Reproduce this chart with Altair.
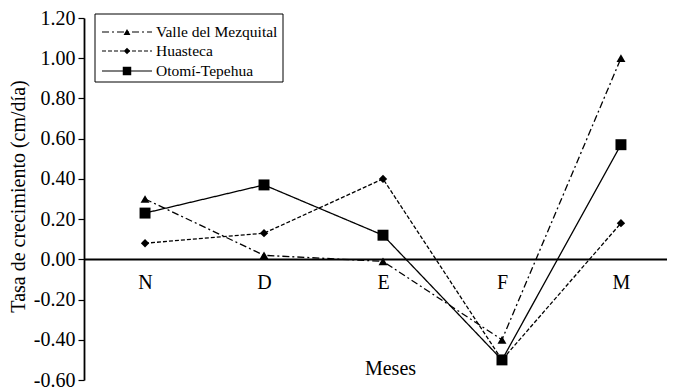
import altair as alt
import pandas as pd

months = ["N", "D", "E", "F", "M"]
series = ["Valle del Mezquital", "Huasteca", "Otomí-Tepehua"]
valle = [0.30, 0.02, -0.01, -0.40, 1.00]
huasteca = [0.08, 0.13, 0.40, -0.50, 0.18]
otomi = [0.23, 0.37, 0.12, -0.50, 0.57]
y_ticks = [-0.6, -0.4, -0.2, 0.0, 0.2, 0.4, 0.6, 0.8, 1.0, 1.2]

values = {"Valle del Mezquital": valle, "Huasteca": huasteca, "Otomí-Tepehua": otomi}
style = {
    "Valle del Mezquital": dict(dash=[7, 3, 2, 3], shape="triangle-up", size=80),
    "Huasteca": dict(dash=[4, 2], shape="diamond", size=70),
    "Otomí-Tepehua": dict(dash=[1, 0], shape="square", size=120),
}

rows = []
for s in series:
    for i, (m, v) in enumerate(zip(months, values[s])):
        rows.append({"serie": s, "mes": m, "idx": i, "valor": v})
df = pd.DataFrame(rows)

FONT = "Liberation Serif, Times New Roman, Times, serif"
label_expr = "[" + ",".join("'%s'" % m for m in months) + "][datum.value]"

H = 362
x_enc = alt.X(
    "idx:Q",
    scale=alt.Scale(domain=[-0.513, 4.387], nice=False, zero=False),
    axis=alt.Axis(
        values=list(range(len(months))),
        labelExpr=label_expr,
        ticks=False,
        grid=False,
        offset=-121,
        labelPadding=13,
        labelFontSize=20,
        title="Meses",
        titleFontSize=20,
        titleFontWeight="normal",
        titleX=306,
        titleY=109,
        titleBaseline="middle",
        titleAlign="center",
        domainWidth=1.8,
    ),
)
y_enc = alt.Y(
    "valor:Q",
    scale=alt.Scale(domain=[-0.6, 1.2], nice=False, zero=False),
    axis=alt.Axis(
        values=y_ticks,
        labelExpr="replace(format(datum.value, '.2f'), '\u2212', '-')",
        grid=False,
        tickSize=6,
        tickWidth=1.2,
        labelPadding=3,
        labelFontSize=20,
        title="Tasa de crecimiento (cm/día)",
        titleFontSize=20,
        titleFontWeight="normal",
        titleX=-66,
        titleY=178,
        titleAngle=-90,
        titleAlign="center",
        titleBaseline="middle",
        domainWidth=1.8,
    ),
)

layers = []
for k, s in enumerate(series):
    st = style[s]
    sub = alt.Chart(df).transform_filter(alt.datum.serie == s)
    enc_x = x_enc if k == 0 else alt.X("idx:Q")
    enc_y = y_enc if k == 0 else alt.Y("valor:Q")
    layers.append(
        sub.mark_line(color="black", strokeWidth=1.3, strokeDash=st["dash"]).encode(
            x=enc_x, y=enc_y
        )
    )
for s in series:
    st = style[s]
    sub = alt.Chart(df).transform_filter(alt.datum.serie == s)
    layers.append(
        sub.mark_point(
            shape=st["shape"], size=st["size"], filled=True, color="black", opacity=1
        ).encode(x="idx:Q", y="valor:Q")
    )

# legend box
leg = pd.DataFrame({"serie": series})
layers.append(
    alt.Chart(leg.head(1)).mark_rect(fill="white", stroke="black", strokeWidth=1).encode(
        x=alt.value(11), x2=alt.value(199), y=alt.value(-4), y2=alt.value(64)
    )
)
row_y = [14, 33, 53]
for s, yy in zip(series, row_y):
    st = style[s]
    one = alt.Chart(leg).transform_filter(alt.datum.serie == s)
    layers.append(
        one.mark_rule(color="black", strokeWidth=1.2, strokeDash=st["dash"]).encode(
            x=alt.value(18), x2=alt.value(68), y=alt.value(yy)
        )
    )
    layers.append(
        one.mark_point(
            shape=st["shape"], size=st["size"] * 0.6, filled=True, color="black", opacity=1
        ).encode(x=alt.value(43), y=alt.value(yy))
    )
    layers.append(
        one.mark_text(
            align="left", baseline="middle", font=FONT, fontSize=15.5, color="black"
        ).encode(x=alt.value(72), y=alt.value(yy), text="serie:N")
    )

chart = (
    alt.layer(*layers)
    .properties(
        width=583,
        height=H,
        autosize=alt.AutoSizeParams(type="none"),
        padding={"left": 76, "top": 10, "right": 0, "bottom": 9},
    )
    .configure_view(stroke=None)
    .configure_axis(
        labelFont=FONT,
        titleFont=FONT,
        labelColor="black",
        titleColor="black",
        domainColor="black",
        tickColor="black",
    )
)

chart.save("out.html", embed_options={"renderer": "svg", "actions": False})
